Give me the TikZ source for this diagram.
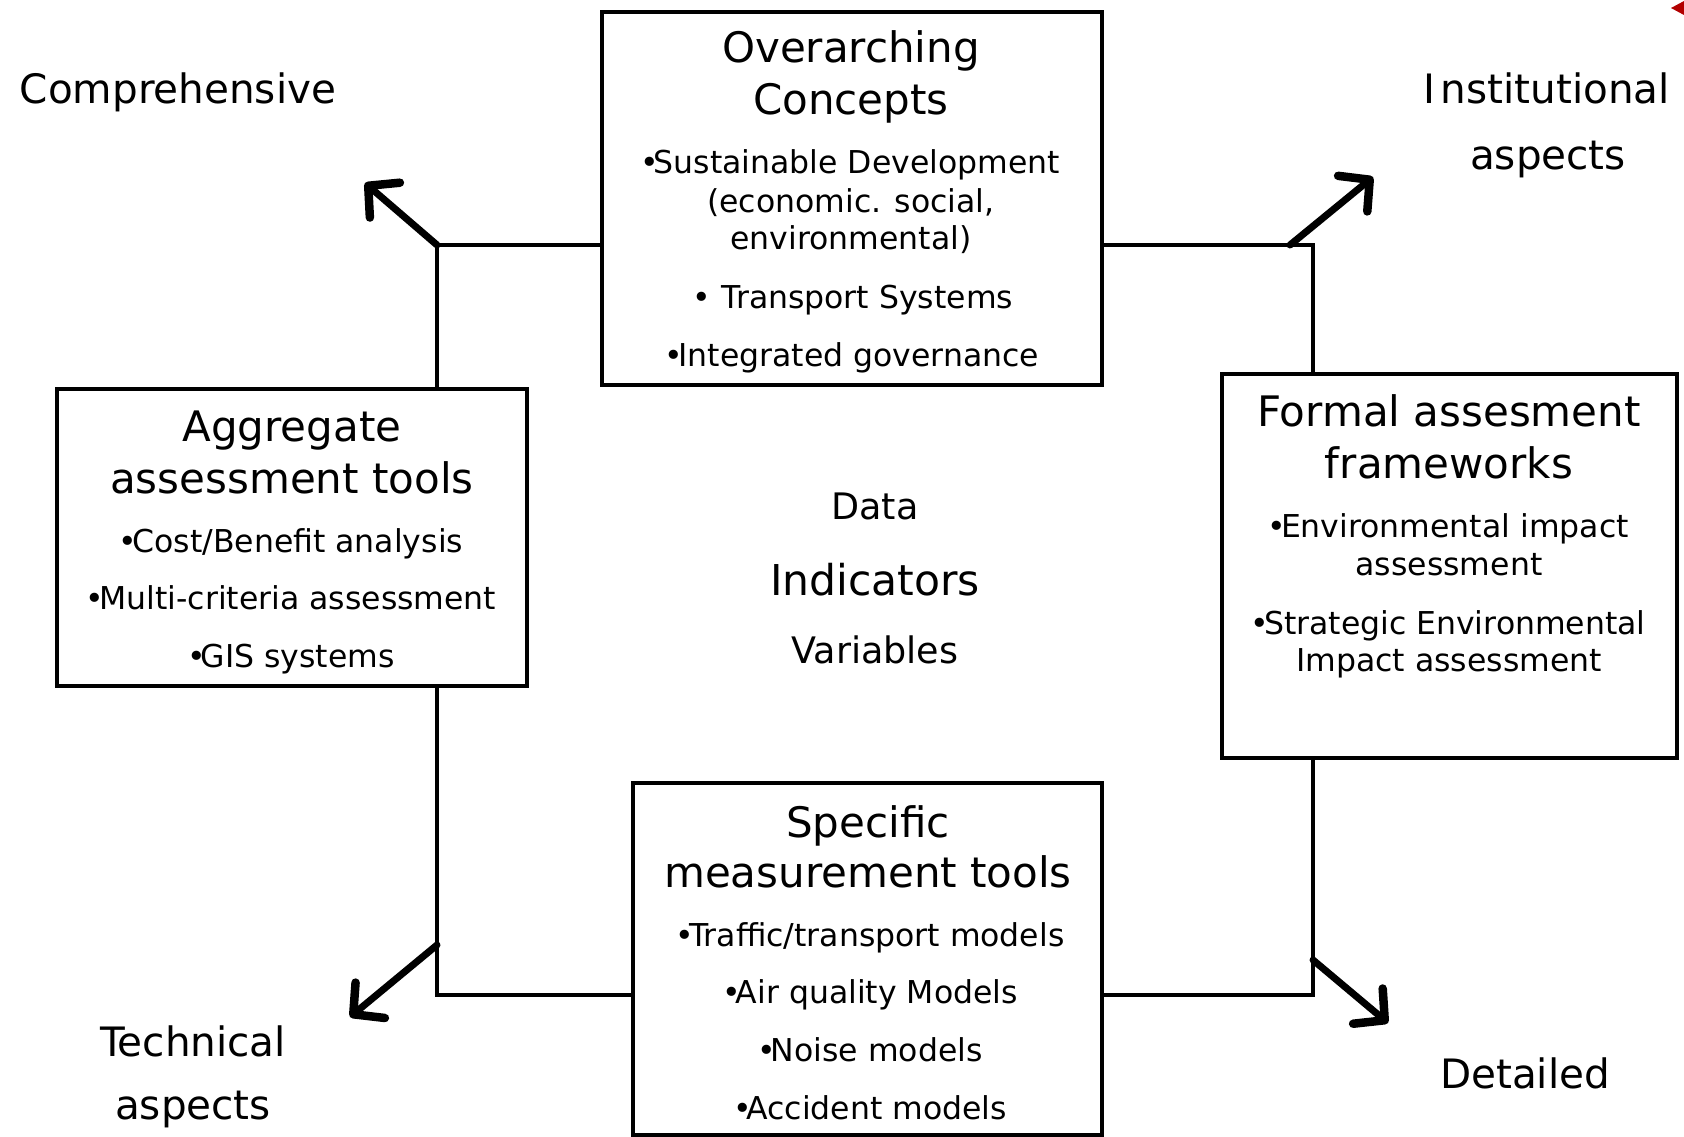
\documentclass[tikz,border=0pt]{standalone}
\usepackage{fontspec}
\setmainfont{DejaVu Sans}
\usetikzlibrary{arrows.meta}
\newcommand\mybul{\kern-0.06em•\kern-0.16em}
\tikzset{
  boxnode/.style={draw=black,line width=4pt,rectangle,inner sep=0pt},
  conn/.style={line width=4pt,line cap=rect},
  bigarrow/.style={line width=7pt,line cap=round,-{Straight Barb[length=22pt,width=46pt,line width=8.5pt,line cap=round,line join=round]}},
  ttl/.style={anchor=base,font=\fontsize{42}{48}\selectfont,inner sep=0pt},
  itm/.style={anchor=base,font=\fontsize{31.5}{37}\selectfont,inner sep=0pt},
  cornerlbl/.style={anchor=base,font=\fontsize{40.5}{46}\selectfont,inner sep=0pt},
  midlbl/.style={anchor=base,font=\fontsize{36.5}{42}\selectfont,inner sep=0pt},
  midbig/.style={anchor=base,font=\fontsize{42.5}{48}\selectfont,inner sep=0pt}
}
\begin{document}
\begin{tikzpicture}[x=1pt,y=-1pt]
\useasboundingbox (0,0) rectangle (1684,1137);
\fill[white] (0,0) rectangle (1684,1137);
% boxes
\node[boxnode,minimum width=500pt,minimum height=373pt] (top) at (852,198.5) {};
\node[boxnode,minimum width=470pt,minimum height=297pt] (agg) at (292,537.5) {};
\node[boxnode,minimum width=455pt,minimum height=384pt] (frm) at (1449.5,566) {};
\node[boxnode,minimum width=469pt,minimum height=352pt] (spc) at (867.5,959) {};
% corner coordinates
\coordinate (tl) at (437,245);
\coordinate (tr) at (1313,245);
\coordinate (bl) at (437,995);
\coordinate (br) at (1313,995);
\coordinate (tlA) at (437,245);
\coordinate (tlT) at (365,183);
\coordinate (trA) at (1290,245);
\coordinate (trT) at (1373,177);
\coordinate (blA) at (437,945);
\coordinate (blT) at (350,1017);
\coordinate (brA) at (1313,960);
\coordinate (brT) at (1388,1023);
% connectors
\draw[conn] (top.west |- tl) -- (tl) -- (tl |- agg.north);
\draw[conn] (top.east |- tr) -- (tr) -- (tr |- frm.north);
\draw[conn] (agg.south -| bl) -- (bl) -- (bl -| spc.west);
\draw[conn] (frm.south -| br) -- (br) -- (br -| spc.east);
% arrows
\draw[bigarrow] (tlA) -- (tlT);
\draw[bigarrow] (trA) -- (trT);
\draw[bigarrow] (blA) -- (blT);
\draw[bigarrow] (brA) -- (brT);
% top box text
\node[ttl] (t1) at (851,63) {Overarching};
\node[ttl] (t2) at (851,115) {Concepts};
\node[itm] (t3) at (851,174) {\mybul Sustainable Development};
\node[itm] (t4) at (851,212) {(economic. social,};
\node[itm] (t5) at (851,249) {environmental)};
\node[itm] (t6) at (853,308) {• Transport Systems};
\node[itm] (t7) at (853,366) {\mybul Integrated governance};
% aggregate
\node[ttl] (a1) at (292,441) {Aggregate};
\node[ttl] (a2) at (292,493) {assessment tools};
\node[itm] (a3) at (292,552) {\mybul Cost/Benefit analysis};
\node[itm] (a4) at (292,609) {\mybul Multi-criteria assessment};
\node[itm] (a5) at (292,667) {\mybul GIS systems};
% formal
\node[ttl] (f1) at (1449,426) {Formal assesment};
\node[ttl] (f2) at (1449,478) {frameworks};
\node[itm] (f3) at (1449,537) {\mybul Environmental impact};
\node[itm] (f4) at (1449,575) {assessment};
\node[itm] (f5) at (1449,634) {\mybul Strategic Environmental};
\node[itm] (f6) at (1449,671) {Impact assessment};
% specific
\node[ttl] (s1) at (868,837) {Specific};
\node[ttl] (s2) at (868,887) {measurement tools};
\node[itm] (s3) at (871,946) {\mybul Traffic/transport models};
\node[itm] (s4) at (871,1003) {\mybul Air quality Models};
\node[itm] (s5) at (871,1061) {\mybul Noise models};
\node[itm] (s6) at (871,1119) {\mybul Accident models};
% centre
\node[midlbl] (m1) at (875,519) {Data};
\node[midbig] (m2) at (875,595) {Indicators};
\node[midlbl] (m3) at (875,663) {Variables};
% corners
\node[cornerlbl] (c1) at (178,104) {Comprehensive};
\node[cornerlbl] (c2) at (1547,104) {I\kern5pt nstitutional};
\node[cornerlbl] (c3) at (1548,169) {aspects};
\node[cornerlbl] (c4) at (193,1056) {Technical};
\node[cornerlbl] (c5) at (193,1119) {aspects};
\node[cornerlbl] (c6) at (1525,1088) {Detailed};
% red fragment
\fill[red!70!black] (1684,1) -- (1671,8) -- (1684,15) -- cycle;
\end{tikzpicture}
\end{document}
